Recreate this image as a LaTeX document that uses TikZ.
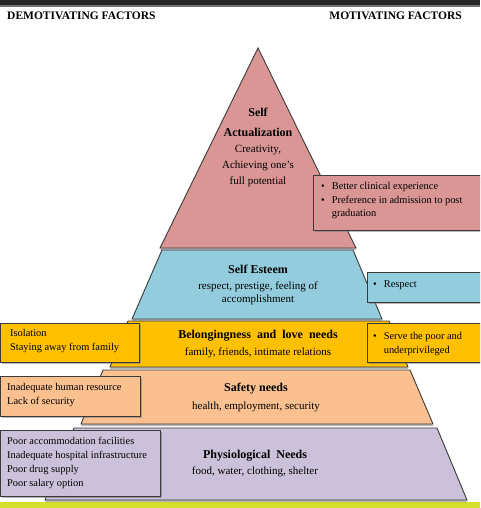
\documentclass[tikz,border=0pt]{standalone}
\usepackage{fontspec}
\setmainfont{Liberation Serif}
\usepackage{xcolor}
\usepackage{tikz}
\usetikzlibrary{positioning, shadows}
\definecolor{actual}{HTML}{D99694}
\definecolor{esteem}{HTML}{93CDDD}
\definecolor{belong}{HTML}{FFC000}
\definecolor{safety}{HTML}{FAC090}
\definecolor{physio}{HTML}{CCC1DA}
\definecolor{rim}{HTML}{3A3A3A}
\definecolor{lime}{HTML}{D5DF2A}

\begin{document}
\begin{tikzpicture}[x=1pt, y=-1pt,
  layer/.style={draw=rim, line width=0.9pt, drop shadow={shadow xshift=0pt, shadow yshift=-2pt, fill=black!55}},
  factor/.style={draw=rim, line width=0.9pt, anchor=north west, inner sep=0pt, drop shadow={shadow xshift=1.2pt, shadow yshift=-1.5pt, fill=black!55}},
  head/.style={font=\bfseries\fontsize{11.5}{13}\selectfont, inner sep=0pt},
  need/.style={font=\bfseries\fontsize{12}{20}\selectfont, align=center, inner sep=0pt},
  what/.style={font=\fontsize{11}{14}\selectfont, align=center, inner sep=0pt},
  item/.style={font=\fontsize{10.4}{14}\selectfont, align=left, anchor=north west, inner sep=0pt}]
  \clip (0,0) rectangle (480,508);
  \fill[white] (0,0) rectangle (480,508);
  % bars
  \fill[black!85] (0,0) rectangle (480,5);
  \fill[black!55] (0,5) rectangle (480,7);
  \fill[lime] (0,502) rectangle (480,508);
  \node[head, anchor=west] (demot) at (7,16) {DEMOTIVATING FACTORS};
  \node[head, anchor=east] (motiv) at (462,16) {MOTIVATING FACTORS};
  % pyramid
  \path[layer, fill=physio] (74,428) -- (437,428) -- (467,500) -- (45,500) -- cycle;
  \path[layer, fill=safety] (103,370) -- (410,370) -- (433,424) -- (81,424) -- cycle;
  \path[layer, fill=belong] (128,321) -- (389,321) -- (408,367) -- (110,367) -- cycle;
  \path[layer, fill=esteem] (162,250) -- (353,250) -- (382,319) -- (132,319) -- cycle;
  \path[layer, fill=actual] (258,48) -- (356,248) -- (160,248) -- cycle;
  \node[need] (sa) at (258,122) {Self\\Actualization};
  \node[what, text depth=0pt, font=\fontsize{11}{16}\selectfont] (saw) at (258,165) {Creativity,\\Achieving one's\\full potential};
  \node[need] (se) at (258,269) {Self Esteem};
  \node[what, font=\fontsize{11}{13}\selectfont] (sew) at (258,293) {respect, prestige, feeling of\\accomplishment};
  \node[need] (bl) at (258,336) {Belongingness\ \ and\ \ love\ \ needs};
  \node[what] (blw) at (258,353) {family, friends, intimate relations};
  \node[need] (sf) at (256,389) {Safety needs};
  \node[what] (sfw) at (256,407) {health, employment, security};
  \node[need] (ph) at (255,456) {Physiological\ \ Needs};
  \node[what] (phw) at (255,472) {food, water, clothing, shelter};
  % demotivating factors
  \node[factor, fill=belong, minimum width=139pt, minimum height=39pt] (dm1) at (0,323) {};
  \node[factor, fill=safety, minimum width=140pt, minimum height=40pt] (dm2) at (0,376) {};
  \node[factor, fill=physio, minimum width=160pt, minimum height=66pt] (dm3) at (0,430) {};
  \node[item, below right=6pt and 10pt of dm1.north west] (dm1t) {Isolation\\Staying away from family};
  \node[item, below right=7pt and 7pt of dm2.north west] (dm2t) {Inadequate human resource\\Lack of security};
  \node[item, below right=7pt and 7pt of dm3.north west] (dm3t) {Poor accommodation facilities\\Inadequate hospital infrastructure\\Poor drug supply\\Poor salary option};
  % motivating factors
  \node[factor, fill=actual, minimum width=170pt, minimum height=55pt] (mo1) at (313,175) {};
  \node[factor, fill=esteem, minimum width=116pt, minimum height=30pt] (mo2) at (367,272) {};
  \node[factor, fill=belong, minimum width=116pt, minimum height=39pt] (mo3) at (367,323) {};
  \node[item, font=\fontsize{10.4}{13.5}\selectfont, below right=5pt and 8pt of mo1.north west] (mo1t)
    {\begin{tabular}{@{}l@{\hspace{7pt}}l@{}}\textbullet & Better clinical experience\\ \textbullet & Preference in admission to post\\ & graduation\end{tabular}};
  \node[item, below right=5pt and 6pt of mo2.north west] (mo2t)
    {\begin{tabular}{@{}l@{\hspace{7pt}}l@{}}\textbullet & Respect\end{tabular}};
  \node[item, font=\fontsize{10.4}{13.5}\selectfont, below right=7pt and 6pt of mo3.north west] (mo3t)
    {\begin{tabular}{@{}l@{\hspace{7pt}}l@{}}\textbullet & Serve the poor and\\ & underprivileged\end{tabular}};
\end{tikzpicture}
\end{document}
